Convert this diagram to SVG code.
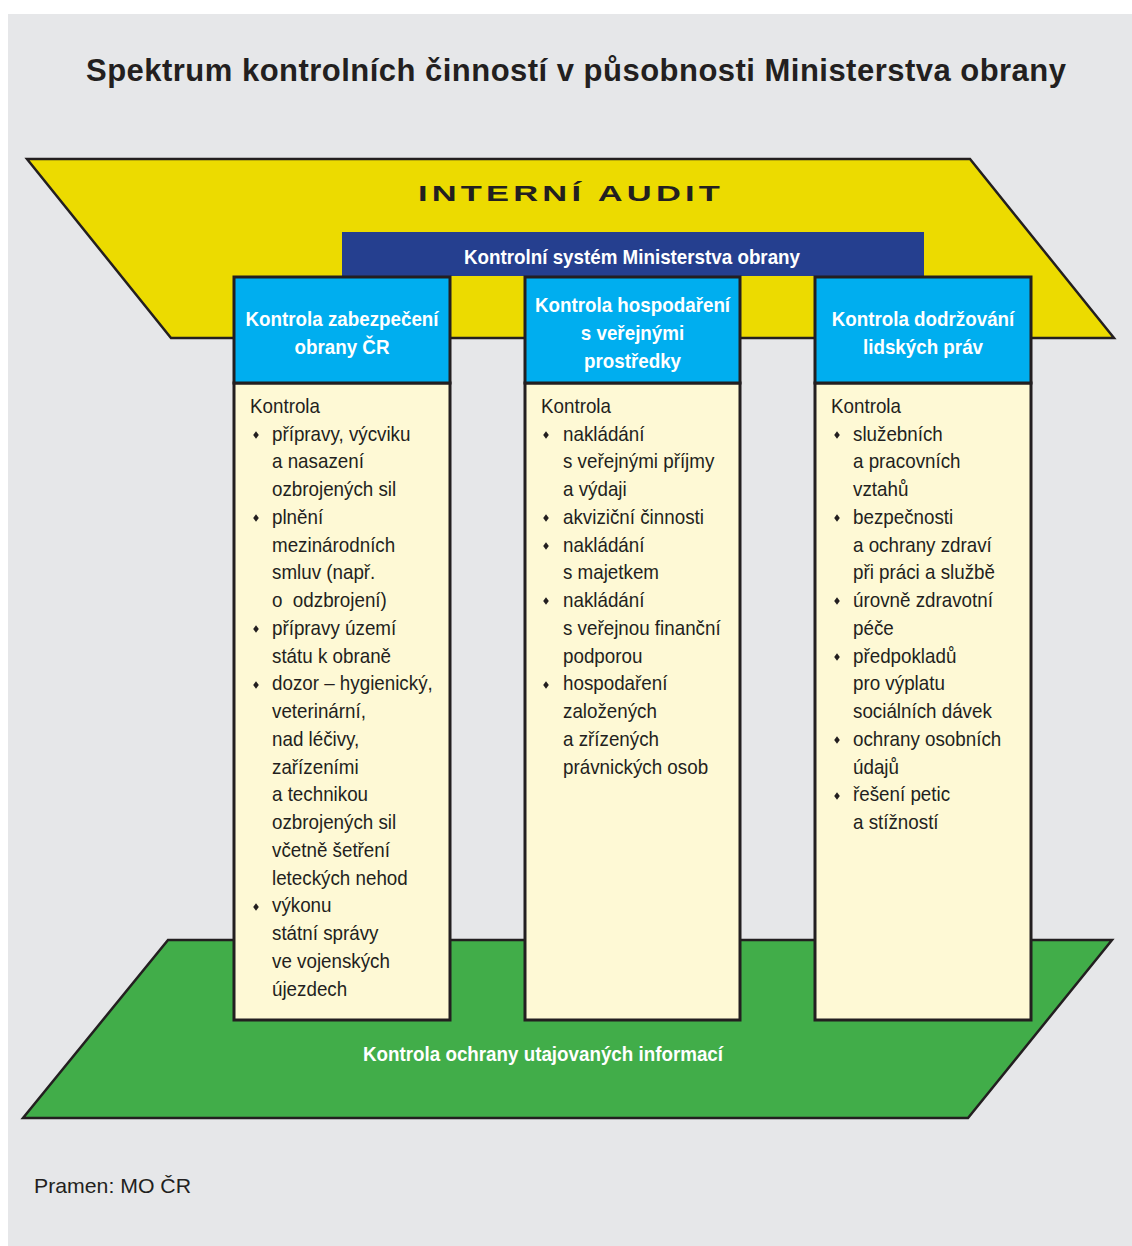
<svg xmlns="http://www.w3.org/2000/svg" width="1132" height="1246" viewBox="0 0 1132 1246">
<style>
.title{font-family:"Liberation Sans",Arial,sans-serif;font-weight:bold;font-size:31px;fill:#231f20}
.audit{font-family:"Liberation Sans",Arial,sans-serif;font-weight:bold;font-size:23px;fill:#231f20;letter-spacing:2.8px}
.hb{font-family:"Liberation Sans",Arial,sans-serif;font-weight:bold;font-size:20px;fill:#ffffff;text-anchor:middle}
.body{font-family:"Liberation Sans",Arial,sans-serif;font-size:20px;fill:#231f20}
.src{font-family:"Liberation Sans",Arial,sans-serif;font-size:21px;fill:#231f20}
.edge{stroke:#231f20;stroke-width:2.5;stroke-linejoin:miter}
.head{fill:#00aeef;stroke:#231f20;stroke-width:3}
.card{fill:#fef9d5;stroke:#231f20;stroke-width:3}
.bul{fill:#231f20}
</style>
<defs>
<polygon id="b" points="0,-3.8 2.8,0 0,3.8 -2.8,0"/>
</defs>
<rect x="8" y="14" width="1124" height="1232" fill="#e6e7e9"/>
<text class="title" x="86" y="81" textLength="980" lengthAdjust="spacing">Spektrum kontrolních činností v působnosti Ministerstva obrany</text>

<g id="interni-audit">
<polygon class="edge" points="27,159 970,159 1114,338 171,338" fill="#ecdb00"/>
<text class="audit" transform="translate(571,201) scale(1.5,1)" text-anchor="middle">INTERNÍ AUDIT</text>
</g>

<g id="kontrolni-system">
<rect x="342" y="232" width="582" height="44" fill="#253f8f"/>
<text class="hb" transform="translate(632,264) scale(0.94,1)">Kontrolní systém Ministerstva obrany</text>
</g>

<g id="utajovane-informace">
<polygon class="edge" points="168,940 1112,940 968,1118 23,1118" fill="#41ad49"/>
<text class="hb" transform="translate(543,1061) scale(0.94,1)">Kontrola ochrany utajovaných informací</text>
</g>

<g id="col1">
<rect class="card" x="234" y="383" width="216" height="637"/>
<rect class="head" x="234" y="277" width="216" height="106"/>
<text class="hb" transform="translate(342,0) scale(0.94,1)"><tspan x="0" y="326">Kontrola zabezpečení</tspan><tspan x="0" y="354">obrany ČR</tspan></text>
<g class="bul">
<use href="#b" x="256" y="435"/><use href="#b" x="256" y="518"/><use href="#b" x="256" y="629"/><use href="#b" x="256" y="685"/><use href="#b" x="256" y="907"/>
</g>
<g transform="translate(250,0) scale(0.94,1)">
<text class="body"><tspan x="0" y="413">Kontrola</tspan><tspan x="23.4" y="440.75">přípravy, výcviku</tspan><tspan x="23.4" y="468.5">a nasazení</tspan><tspan x="23.4" y="496.25">ozbrojených sil</tspan><tspan x="23.4" y="524">plnění</tspan><tspan x="23.4" y="551.75">mezinárodních</tspan><tspan x="23.4" y="579.5">smluv (např.</tspan><tspan x="23.4" y="607.25">o&#160; odzbrojení)</tspan><tspan x="23.4" y="635">přípravy území</tspan><tspan x="23.4" y="662.75">státu k obraně</tspan><tspan x="23.4" y="690.5">dozor – hygienický,</tspan><tspan x="23.4" y="718.25">veterinární,</tspan><tspan x="23.4" y="746">nad léčivy,</tspan><tspan x="23.4" y="773.75">zařízeními</tspan><tspan x="23.4" y="801.5">a technikou</tspan><tspan x="23.4" y="829.25">ozbrojených sil</tspan><tspan x="23.4" y="857">včetně šetření</tspan><tspan x="23.4" y="884.75">leteckých nehod</tspan><tspan x="23.4" y="912.5">výkonu</tspan><tspan x="23.4" y="940.25">státní správy</tspan><tspan x="23.4" y="968">ve vojenských</tspan><tspan x="23.4" y="995.75">újezdech</tspan></text>
</g>
</g>

<g id="col2">
<rect class="card" x="525" y="383" width="215" height="637"/>
<rect class="head" x="525" y="277" width="215" height="106"/>
<text class="hb" transform="translate(632.5,0) scale(0.94,1)"><tspan x="0" y="312">Kontrola hospodaření</tspan><tspan x="0" y="340">s veřejnými</tspan><tspan x="0" y="368">prostředky</tspan></text>
<g class="bul">
<use href="#b" x="546" y="435"/><use href="#b" x="546" y="518"/><use href="#b" x="546" y="546"/><use href="#b" x="546" y="601"/><use href="#b" x="546" y="685"/>
</g>
<g transform="translate(541,0) scale(0.94,1)">
<text class="body"><tspan x="0" y="413">Kontrola</tspan><tspan x="23.4" y="440.75">nakládání</tspan><tspan x="23.4" y="468.5">s veřejnými příjmy</tspan><tspan x="23.4" y="496.25">a výdaji</tspan><tspan x="23.4" y="524">akviziční činnosti</tspan><tspan x="23.4" y="551.75">nakládání</tspan><tspan x="23.4" y="579.5">s majetkem</tspan><tspan x="23.4" y="607.25">nakládání</tspan><tspan x="23.4" y="635">s veřejnou finanční</tspan><tspan x="23.4" y="662.75">podporou</tspan><tspan x="23.4" y="690.5">hospodaření</tspan><tspan x="23.4" y="718.25">založených</tspan><tspan x="23.4" y="746">a zřízených</tspan><tspan x="23.4" y="773.75">právnických osob</tspan></text>
</g>
</g>

<g id="col3">
<rect class="card" x="815" y="383" width="216" height="637"/>
<rect class="head" x="815" y="277" width="216" height="106"/>
<text class="hb" transform="translate(923,0) scale(0.94,1)"><tspan x="0" y="326">Kontrola dodržování</tspan><tspan x="0" y="354">lidských práv</tspan></text>
<g class="bul">
<use href="#b" x="837" y="435"/><use href="#b" x="837" y="518"/><use href="#b" x="837" y="601"/><use href="#b" x="837" y="657"/><use href="#b" x="837" y="740"/><use href="#b" x="837" y="796"/>
</g>
<g transform="translate(831,0) scale(0.94,1)">
<text class="body"><tspan x="0" y="413">Kontrola</tspan><tspan x="23.4" y="440.75">služebních</tspan><tspan x="23.4" y="468.5">a pracovních</tspan><tspan x="23.4" y="496.25">vztahů</tspan><tspan x="23.4" y="524">bezpečnosti</tspan><tspan x="23.4" y="551.75">a ochrany zdraví</tspan><tspan x="23.4" y="579.5">při práci a službě</tspan><tspan x="23.4" y="607.25">úrovně zdravotní</tspan><tspan x="23.4" y="635">péče</tspan><tspan x="23.4" y="662.75">předpokladů</tspan><tspan x="23.4" y="690.5">pro výplatu</tspan><tspan x="23.4" y="718.25">sociálních dávek</tspan><tspan x="23.4" y="746">ochrany osobních</tspan><tspan x="23.4" y="773.75">údajů</tspan><tspan x="23.4" y="801.5">řešení petic</tspan><tspan x="23.4" y="829.25">a stížností</tspan></text>
</g>
</g>

<g id="connectors"></g>

<text class="src" x="34" y="1193" textLength="157" lengthAdjust="spacingAndGlyphs">Pramen: MO ČR</text>
</svg>
